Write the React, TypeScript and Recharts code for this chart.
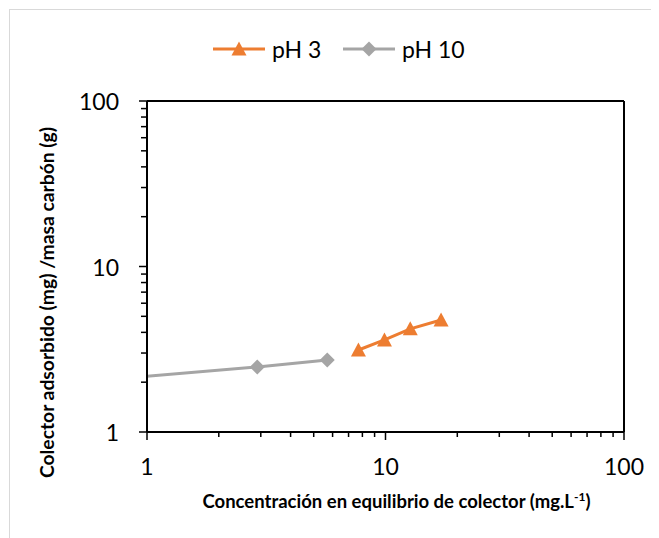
import React from 'react';
import { LineChart, Line, XAxis, YAxis, ReferenceLine, Legend } from 'recharts';

// pH 3 series (concentration, adsorbed/mass)
const PH3_X = [7.7, 9.9, 12.7, 17.1];
const PH3_Y = [3.13, 3.6, 4.2, 4.75];
// pH 10 series; first point sits left of the x-axis start and is clipped
const PH10_X = [0.5, 2.9, 5.7];
const PH10_Y = [2.0, 2.47, 2.72];

const AXIS_TICKS = [1, 2, 3, 4, 5, 6, 7, 8, 9, 10, 20, 30, 40, 50, 60, 70, 80, 90, 100];
const MAJOR_TICKS = [1, 10, 100];
const SERIES_NAMES = ['pH 3', 'pH 10'];

const ORANGE = '#ED7D31';
const GRAY = '#A5A5A5';
const FONT = 'Lato, "Open Sans", sans-serif';

const ph3Data = PH3_X.map((x, i) => ({ x, y: PH3_Y[i] }));
const ph10Data = PH10_X.map((x, i) => ({ x, y: PH10_Y[i] }));

const trianglePath = (cx: number, cy: number) =>
  `M${cx},${cy - 7.5} L${cx + 7.5},${cy + 6.5} L${cx - 7.5},${cy + 6.5} Z`;
const diamondPath = (cx: number, cy: number) =>
  `M${cx},${cy - 7.5} L${cx + 7.5},${cy} L${cx},${cy + 7.5} L${cx - 7.5},${cy} Z`;

const TriangleDot = (props: any) => {
  const { cx, cy, index } = props;
  if (cx == null || cy == null) return <g key={`t-${index}`} />;
  return <path key={`t-${index}`} d={trianglePath(cx, cy)} fill={ORANGE} />;
};

const DiamondDot = (props: any) => {
  const { cx, cy, index, payload } = props;
  if (cx == null || cy == null || payload.x < 1) return <g key={`d-${index}`} />;
  return <path key={`d-${index}`} d={diamondPath(cx, cy)} fill={GRAY} />;
};

const XTick = ({ x, y, payload }: any) => {
  const major = MAJOR_TICKS.includes(payload.value);
  return (
    <g>
      <line x1={x} x2={x} y1={y} y2={y + (major ? 8 : 5)} stroke="#000" strokeWidth={1.5} />
      {major && (
        <text x={x} y={y + 43} textAnchor="middle" fontFamily={FONT} fontSize={23} fill="#000">
          {payload.value}
        </text>
      )}
    </g>
  );
};

const YTick = ({ x, y, payload }: any) => {
  const major = MAJOR_TICKS.includes(payload.value);
  return (
    <g>
      <line x1={x} x2={x - (major ? 8 : 6)} y1={y} y2={y} stroke="#000" strokeWidth={1.5} />
      {major && (
        <text x={x - 28} y={y + 9} textAnchor="end" fontFamily={FONT} fontSize={23} fill="#000">
          {payload.value}
        </text>
      )}
    </g>
  );
};

const XTitle = ({ viewBox }: any) => (
  <text
    x={viewBox.x + viewBox.width / 2 + 11}
    y={viewBox.y + 76}
    textAnchor="middle"
    fontFamily={FONT}
    fontWeight="bold"
    fontSize={18.5}
    fill="#000"
  >
    Concentración en equilibrio de colector (mg.L
    <tspan fontSize={12} dy={-7}>-1</tspan>
    <tspan dy={7}>)</tspan>
  </text>
);

const YTitle = ({ viewBox }: any) => {
  const cx = 46;
  const cy = viewBox.y + viewBox.height / 2 + 36;
  return (
    <text
      x={cx}
      y={cy}
      transform={`rotate(-90, ${cx}, ${cy})`}
      textAnchor="middle"
      fontFamily={FONT}
      fontWeight="bold"
      fontSize={19.3}
      fill="#000"
    >
      Colector adsorbido (mg) /masa carbón (g)
    </text>
  );
};

const renderLegend = () => (
  <svg width={651} height={70}>
    {SERIES_NAMES.map((name, i) => {
      const x0 = 205 + i * 130;
      const color = i === 0 ? ORANGE : GRAY;
      return (
        <g key={name}>
          <line x1={x0} x2={x0 + 52} y1={41} y2={41} stroke={color} strokeWidth={3} />
          <path d={i === 0 ? trianglePath(x0 + 26, 41) : diamondPath(x0 + 26, 41)} fill={color} />
          <text x={x0 + 59} y={50} fontFamily={FONT} fontSize={23} fill="#000">
            {name}
          </text>
        </g>
      );
    })}
  </svg>
);

export default function App() {
  return (
    <div style={{ position: 'relative', width: 651, height: 530, overflow: 'hidden', background: '#fff' }}>
      <div
        style={{
          position: 'absolute',
          left: 1,
          top: 1,
          width: 700,
          height: 600,
          border: '1px solid #d9d9d9',
        }}
      />
      <div style={{ position: 'absolute', left: 0, top: 0 }}>
        <LineChart width={651} height={530} margin={{ top: 93, right: 35, left: 0, bottom: 0 }}>
          <XAxis
            dataKey="x"
            type="number"
            scale="log"
            domain={[1, 100]}
            allowDataOverflow
            ticks={AXIS_TICKS}
            interval={0}
            tickSize={0}
            tickMargin={0}
            tickLine={false}
            tick={<XTick />}
            height={106}
            axisLine={{ stroke: '#000', strokeWidth: 2 }}
            label={<XTitle />}
          />
          <YAxis
            dataKey="y"
            type="number"
            scale="log"
            domain={[1, 100]}
            allowDataOverflow
            ticks={AXIS_TICKS}
            interval={0}
            tickSize={0}
            tickMargin={0}
            tickLine={false}
            tick={<YTick />}
            width={139}
            axisLine={{ stroke: '#000', strokeWidth: 2 }}
            label={<YTitle />}
          />
          <ReferenceLine y={100} stroke="#000" strokeWidth={2} />
          <ReferenceLine x={100} stroke="#000" strokeWidth={2} />
          <Legend
            layout="vertical"
            align="center"
            verticalAlign="middle"
            wrapperStyle={{ top: 0, left: 0, width: 651, height: 70 }}
            content={renderLegend}
          />
          <Line
            data={ph10Data}
            dataKey="y"
            name="pH 10"
            stroke={GRAY}
            strokeWidth={3}
            dot={<DiamondDot />}
            isAnimationActive={false}
          />
          <Line
            data={ph3Data}
            dataKey="y"
            name="pH 3"
            stroke={ORANGE}
            strokeWidth={3}
            dot={<TriangleDot />}
            isAnimationActive={false}
          />
        </LineChart>
      </div>
    </div>
  );
}
